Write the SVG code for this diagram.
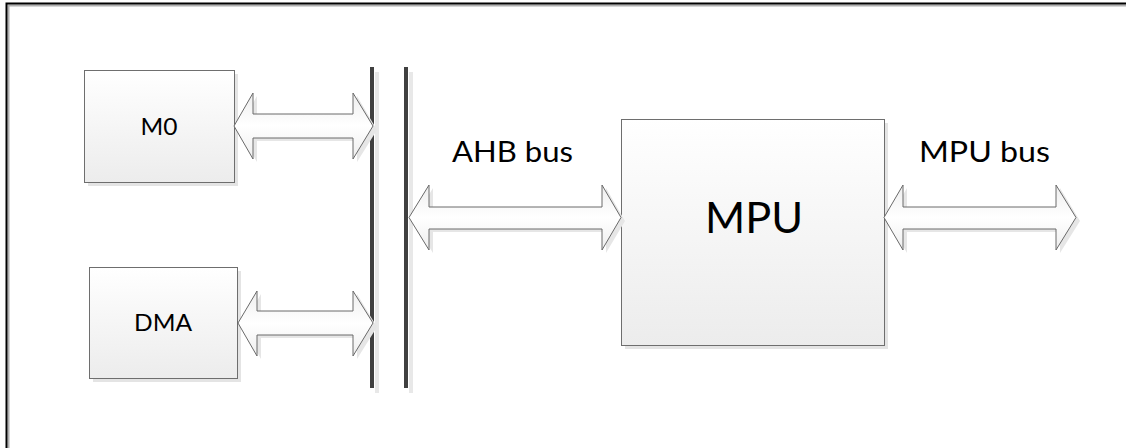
<svg xmlns="http://www.w3.org/2000/svg" width="1126" height="448" viewBox="0 0 1126 448">
<defs>
<linearGradient id="boxFill" x1="0" y1="0" x2="0" y2="1">
<stop offset="0" stop-color="#ffffff"/>
<stop offset="1" stop-color="#ececec"/>
</linearGradient>
<linearGradient id="arrowFill" x1="0" y1="0" x2="0" y2="1">
<stop offset="0" stop-color="#eeeeee"/>
<stop offset="0.5" stop-color="#ffffff"/>
<stop offset="1" stop-color="#eeeeee"/>
</linearGradient>
<style>
.box{fill:url(#boxFill);stroke:#6e6e6e;stroke-width:1}
.shadow{fill:#e4e4e4;stroke:none}
.arrow{fill:url(#arrowFill);stroke:#6a6a6a;stroke-width:1;stroke-linejoin:miter}
.ashadow{fill:#e6e6e6;stroke:none}
.bus{stroke:#404040;stroke-width:4}
.busShadow{stroke:#e8e8e8;stroke-width:4}
text{font-family:Lato,"Liberation Sans",sans-serif;fill:#000;text-anchor:middle}
</style>
</defs>
<rect x="0" y="0" width="1126" height="448" fill="#ffffff"/>
<g id="frame">
<path d="M8.5 450 V5.5 H1130" fill="none" stroke="#b0b0b0" stroke-width="2"/>
<path d="M6.5 450 V3.5 H1130" fill="none" stroke="#000000" stroke-width="2"/>
</g>
<g id="bus-lines">
<line class="busShadow" x1="377" y1="72" x2="377" y2="393"/>
<line class="busShadow" x1="411" y1="72" x2="411" y2="393"/>
<line class="bus" x1="372" y1="67" x2="372" y2="388"/>
<line class="bus" x1="406" y1="67" x2="406" y2="388"/>
</g>
<g id="node-m0">
<rect class="shadow" x="88" y="74" width="150" height="112"/>
<rect class="box" x="84.5" y="70.5" width="150" height="112"/>
<text x="159" y="135" font-size="24" textLength="37" lengthAdjust="spacingAndGlyphs">M0</text>
</g>
<g id="node-dma">
<rect class="shadow" x="93" y="271" width="148" height="111"/>
<rect class="box" x="89.5" y="267.5" width="148" height="111"/>
<text x="163" y="331" font-size="24" textLength="58" lengthAdjust="spacingAndGlyphs">DMA</text>
</g>
<g id="node-mpu">
<rect class="shadow" x="625" y="123" width="263" height="226"/>
<rect class="box" x="621.5" y="119.5" width="263" height="226"/>
<text x="754" y="233" font-size="43" textLength="98" lengthAdjust="spacingAndGlyphs">MPU</text>
</g>
<g id="connectors">
<polygon class="ashadow" points="238,130 257,96 257,117 357,117 357,96 377,130 357,162 357,141 257,141 257,162"/>
<polygon class="arrow" points="234,126 253,93 253,114 353,114 353,93 373,126 353,159 353,138 253,138 253,159"/>
<polygon class="ashadow" points="242,327 261,294 261,314 357,314 357,294 377,327 357,359 357,338 261,338 261,359"/>
<polygon class="arrow" points="238,323 257,291 257,311 353,311 353,291 373,323 353,356 353,335 257,335 257,356"/>
<polygon class="ashadow" points="413,221 433,188 433,210 606,210 606,188 625,221 606,253 606,232 433,232 433,253"/>
<polygon class="arrow" points="409,217.5 429,185 429,207 602,207 602,185 621,217.5 602,250 602,229 429,229 429,250"/>
<polygon class="ashadow" points="888,221 907,188 907,210 1060,210 1060,188 1080,221 1060,253 1060,232 907,232 907,253"/>
<polygon class="arrow" points="884,217.5 903,185 903,207 1056,207 1056,185 1076,217.5 1056,250 1056,229 903,229 903,250"/>
</g>
<g id="labels">
<text x="512.5" y="162" font-size="28" textLength="121" lengthAdjust="spacingAndGlyphs">AHB bus</text>
<text x="984.5" y="162" font-size="28" textLength="131" lengthAdjust="spacingAndGlyphs">MPU bus</text>
</g>
</svg>
